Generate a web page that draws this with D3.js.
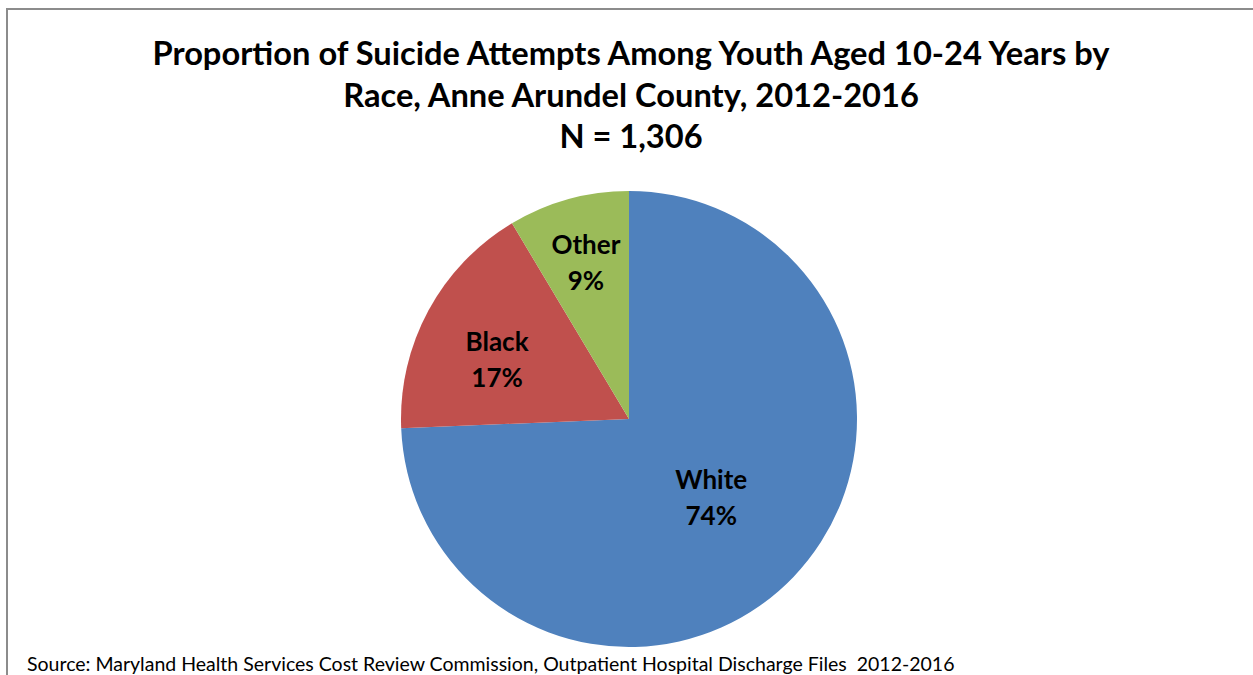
<!DOCTYPE html>
<html>
<head>
<meta charset="utf-8">
<script src="https://cdn.jsdelivr.net/npm/d3@7"></script>
<style>
  html, body { margin: 0; padding: 0; background: #fff; }
  svg { display: block; }
</style>
</head>
<body>
<svg id="chart" width="1253" height="675"></svg>
<script>
// ---- data ----
const titleLines = [
  "Proportion of Suicide Attempts Among Youth Aged 10-24 Years by",
  "Race, Anne Arundel County, 2012-2016",
  "N = 1,306"
];
const categories = ["White", "Black", "Other"];
const counts = [971, 223, 112];
const sourceNote = "Source: Maryland Health Services Cost Review Commission, Outpatient Hospital Discharge Files  2012-2016";

// ---- styles / layout ----
const W = 1253, H = 675;
const colors = ["#4F81BD", "#C0504D", "#9BBB59"];
const labelRadiusFactor = { White: 0.50, Black: 0.634, Other: 0.71 };
const labelAngleShiftDeg = { White: 0, Black: -4.3, Other: 0 };
const cx = 629, cy = 419, R = 228;
const FONT = "Lato, 'Open Sans', sans-serif";
const LABEL_SIZE = 26;

const svg = d3.select("#chart");

// frame (left and top edges visible)
svg.append("path")
  .attr("d", `M7,${H} L7,9 L${W},9`)
  .attr("fill", "none")
  .attr("stroke", "#8c8c8c")
  .attr("stroke-width", 2);

function fitText(sel, targetWidth) {
  const node = sel.node();
  const w = node.getComputedTextLength();
  const fs = parseFloat(sel.attr("font-size"));
  sel.attr("font-size", (fs * targetWidth / w).toFixed(2));
}

// title
const titleBaselines = [65, 107, 148];
const titleG = svg.append("g");
const t0 = titleG.append("text")
  .attr("x", 631).attr("y", titleBaselines[0])
  .attr("text-anchor", "middle")
  .attr("font-family", FONT).attr("font-weight", "bold")
  .attr("font-size", 28).attr("fill", "#000")
  .text(titleLines[0]);
fitText(t0, 957);
const titleSize = t0.attr("font-size");
titleLines.slice(1).forEach((line, i) => {
  titleG.append("text")
    .attr("x", 631).attr("y", titleBaselines[i + 1])
    .attr("text-anchor", "middle")
    .attr("font-family", FONT).attr("font-weight", "bold")
    .attr("font-size", titleSize).attr("fill", "#000")
    .text(line);
});

// pie
const total = d3.sum(counts);
const data = categories.map((c, i) => ({ cat: c, value: counts[i] }));
const pie = d3.pie().value(d => d.value).sort(null);
const arcs = pie(data);
const arc = d3.arc().innerRadius(0).outerRadius(R);
const color = d3.scaleOrdinal().domain(categories).range(colors);

const g = svg.append("g").attr("transform", `translate(${cx},${cy})`);
g.selectAll("path.slice")
  .data(arcs)
  .join("path")
  .attr("class", "slice")
  .attr("d", arc)
  .attr("fill", d => color(d.data.cat));

// labels
arcs.forEach(d => {
  const k = labelRadiusFactor[d.data.cat] * R;
  const shift = labelAngleShiftDeg[d.data.cat] * Math.PI / 180;
  const c = d3.arc().innerRadius(k).outerRadius(k)
    .centroid({ startAngle: d.startAngle + shift, endAngle: d.endAngle + shift });
  const pct = Math.round(d.data.value / total * 100) + "%";
  const t = g.append("text")
    .attr("x", c[0]).attr("y", c[1])
    .attr("text-anchor", "middle")
    .attr("font-family", FONT).attr("font-weight", "bold")
    .attr("font-size", LABEL_SIZE).attr("fill", "#000");
  t.append("tspan").attr("x", c[0]).attr("dy", "-0.33em").text(d.data.cat);
  t.append("tspan").attr("x", c[0]).attr("dy", "1.38em").text(pct);
});

// source note
const src = svg.append("text")
  .attr("x", 27).attr("y", 671)
  .attr("font-family", FONT)
  .attr("font-size", 18).attr("fill", "#000")
  .style("white-space", "pre")
  .text(sourceNote);
fitText(src, 928);
</script>
</body>
</html>
